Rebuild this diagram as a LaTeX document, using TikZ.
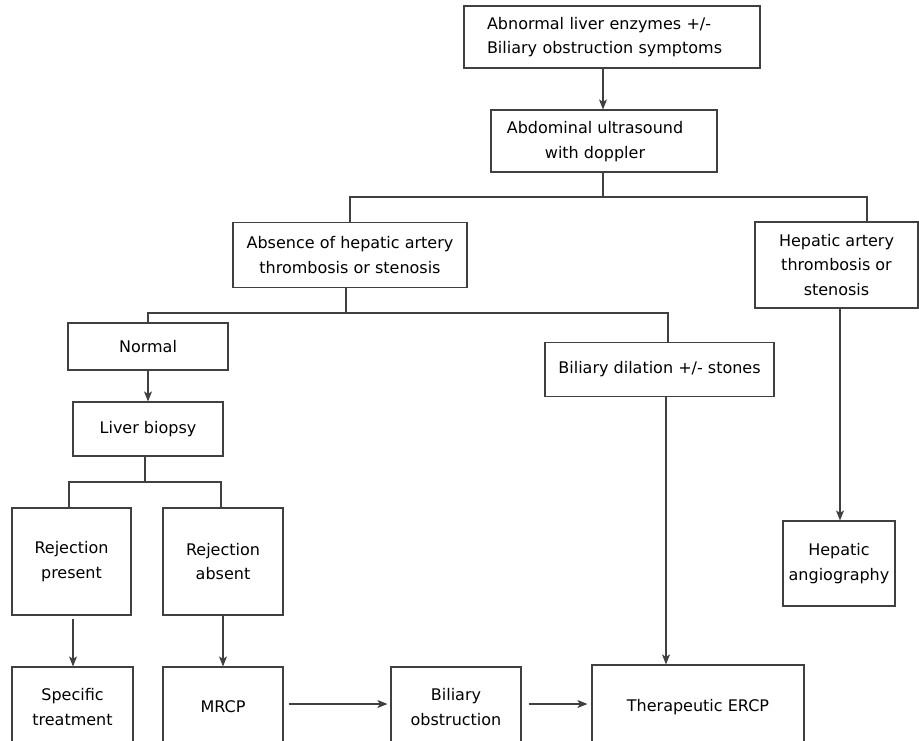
\documentclass[tikz,border=0pt]{standalone}
\usepackage{fontspec}
\setmainfont{DejaVu Sans}
\usetikzlibrary{arrows.meta}
\begin{document}
\begin{tikzpicture}[x=1pt,y=-1pt,
  box/.style={draw=black!75, line width=1.2pt, fill=white, align=center, inner sep=0pt,
    font=\fontsize{16}{24.5}\selectfont},
  ln/.style={draw=black!75, line width=1.1pt},
  arr/.style={ln, -{Stealth[length=10pt,width=8pt,inset=2.5pt]}}]
\useasboundingbox (0,0) rectangle (919,740);
\clip (0,0) rectangle (919,740);
\node[box, text width=250pt, inner xsep=23pt, minimum height=62, align=left] (b1) at (612,37) {Abnormal liver enzymes +/-\\Biliary obstruction symptoms};
\node[box, minimum width=226, minimum height=62] (b2) at (604,141) {\begin{tabular}{@{}c@{\hspace{18pt}}}Abdominal ultrasound\\with doppler\end{tabular}};
\node[box, minimum width=234, minimum height=65] (b3) at (350,255) {Absence of hepatic artery\\thrombosis or stenosis};
\node[box, minimum width=163, minimum height=86] (b4) at (836.5,265) {Hepatic artery\\thrombosis or\\stenosis};
\node[box, minimum width=160, minimum height=47] (b5) at (148,346.5) {Normal};
\node[box, minimum width=229, minimum height=54] (b6) at (659.5,369.5) {Biliary dilation +/- stones};
\node[box, minimum width=150, minimum height=54] (b7) at (148,429) {Liver biopsy};
\node[box, minimum width=119, minimum height=107] (b8) at (71.5,561.5) {Rejection\\present};
\node[box, minimum width=120, minimum height=107] (b9) at (223,561.5) {Rejection\\absent};
\node[box, minimum width=121, minimum height=80] (b10) at (72.5,707) {Specific\\treatment};
\node[box, minimum width=120, minimum height=80] (b11) at (223,707) {MRCP};
\node[box, minimum width=130, minimum height=80] (b12) at (456,707) {Biliary\\obstruction};
\node[box, minimum width=212, minimum height=84] (b13) at (698,707) {Therapeutic ERCP};
\node[box, minimum width=112, minimum height=85] (b14) at (839,563.5) {Hepatic\\angiography};

\coordinate (j1) at (604,197);
\coordinate (j2) at (346,313);
\coordinate (j3) at (145,482);

% top
\draw[arr] (b1.south -| 603,0) -- (603,0 |- b2.north);
\draw[ln] (603,0 |- b2.south) -- (j1 -| 603,0);
\draw[ln] (j1 -| 603,0) -- (j1 -| 350,0) -- (350,0 |- b3.north);
\draw[ln] (j1 -| 603,0) -- (j1 -| 867,0) -- (867,0 |- b4.north);
% absence branch
\draw[ln] (b3.south -| j2) -- (j2);
\draw[ln] (j2) -- (j2 -| b5.north) -- (b5.north);
\draw[ln] (j2) -- (j2 -| 668,0) -- (668,0 |- b6.north);
% normal
\draw[arr] (b5.south) -- (b7.north -| b5.south);
\draw[ln] (b7.south -| j3) -- (j3);
\draw[ln] (j3) -- (j3 -| 69,0) -- (69,0 |- b8.north);
\draw[ln] (j3) -- (j3 -| 221,0) -- (221,0 |- b9.north);
% bottom
\draw[arr, shorten <=3pt] (73,0 |- b8.south) -- (73,0 |- b10.north);
\draw[arr] (b9.south) -- (b11.north);
\draw[arr, shorten <=5pt, shorten >=3pt] (b11.east |- 0,704) -- (b12.west |- 0,704);
\draw[arr, shorten <=7pt, shorten >=4pt] (b12.east |- 0,704) -- (b13.west |- 0,704);
\draw[arr] (666,0 |- b6.south) -- (666,0 |- b13.north);
\draw[arr] (840,0 |- b4.south) -- (840,0 |- b14.north);
\end{tikzpicture}
\end{document}
